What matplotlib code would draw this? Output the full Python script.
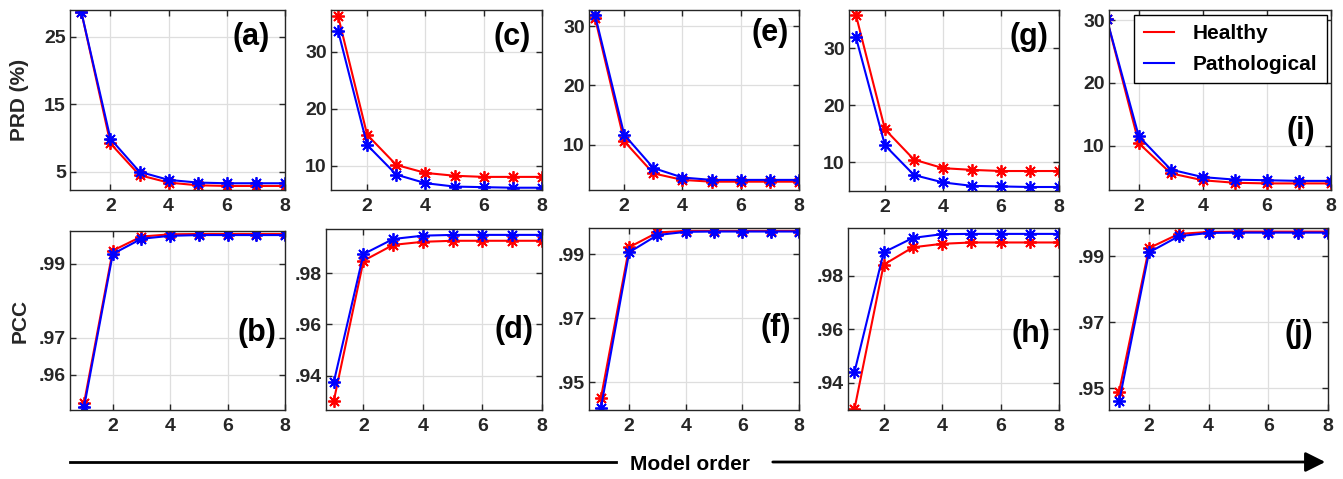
import numpy as np
import matplotlib
matplotlib.use('Agg')
import matplotlib.pyplot as plt
from matplotlib.lines import Line2D

matplotlib.rc('font', family='Liberation Sans', weight='bold', size=14)

orders = [1, 2, 3, 4, 5, 6, 7, 8]

# PRD (%) - top row
prd_a_healthy = [28.7, 9.2, 4.5, 3.4, 3.0, 2.9, 2.9, 2.9]
prd_a_patho = [28.7, 9.9, 5.0, 3.8, 3.4, 3.3, 3.3, 3.3]
prd_c_healthy = [36.3, 15.4, 10.1, 8.7, 8.2, 8.0, 8.0, 8.0]
prd_c_patho = [33.7, 13.6, 8.4, 6.9, 6.3, 6.2, 6.1, 6.1]
prd_e_healthy = [31.3, 10.6, 5.2, 4.1, 3.8, 3.8, 3.8, 3.8]
prd_e_patho = [31.8, 11.7, 6.1, 4.5, 4.1, 4.1, 4.1, 4.1]
prd_g_healthy = [35.8, 15.8, 10.5, 9.0, 8.7, 8.5, 8.5, 8.5]
prd_g_patho = [31.9, 13.0, 7.8, 6.5, 5.9, 5.8, 5.7, 5.7]
prd_i_healthy = [30.2, 10.4, 5.6, 4.5, 4.1, 4.0, 4.0, 4.0]
prd_i_patho = [30.2, 11.5, 6.2, 5.0, 4.6, 4.5, 4.4, 4.4]

# PCC - bottom row
pcc_b_healthy = [.9524, .9936, .9974, .9980, .9981, .9981, .9981, .9981]
pcc_b_patho = [.9513, .9927, .9968, .9976, .9978, .9978, .9978, .9978]
pcc_d_healthy = [.9301, .9849, .9911, .9923, .9927, .9927, .9927, .9927]
pcc_d_patho = [.9374, .9875, .9934, .9947, .9950, .9950, .9950, .9950]
pcc_f_healthy = [.9450, .9922, .9968, .9973, .9973, .9973, .9973, .9973]
pcc_f_patho = [.9419, .9906, .9960, .9970, .9971, .9971, .9971, .9971]
pcc_h_healthy = [.9302, .9841, .9906, .9919, .9924, .9924, .9924, .9924]
pcc_h_patho = [.9440, .9887, .9941, .9955, .9956, .9956, .9956, .9956]
pcc_j_healthy = [.9490, .9925, .9968, .9974, .9975, .9975, .9975, .9975]
pcc_j_patho = [.9460, .9912, .9961, .9971, .9972, .9972, .9972, .9972]

xticks = [2, 4, 6, 8]

W, H = 1343, 479
fig = plt.figure(figsize=(W / 100, H / 100), dpi=100)

# (label, healthy, patho, box px [left,right,top,bottom], xlim, ylim, yticks, yticklabels, label pos)
panels = [
    ('(a)', prd_a_healthy, prd_a_patho, (70, 285, 10, 190), (0.61, 8), (2.3, 29.0),
     [5, 15, 25], ['5', '15', '25'], (0.93, 0.85)),
    ('(c)', prd_c_healthy, prd_c_patho, (331, 542, 10, 190), (0.76, 8), (5.7, 37.3),
     [10, 20, 30], ['10', '20', '30'], (0.945, 0.85)),
    ('(e)', prd_e_healthy, prd_e_patho, (589, 799, 10, 190), (0.79, 8), (2.4, 32.7),
     [10, 20, 30], ['10', '20', '30'], (0.95, 0.87)),
    ('(g)', prd_g_healthy, prd_g_patho, (849, 1059, 10, 191), (0.76, 8), (5.0, 36.7),
     [10, 20, 30], ['10', '20', '30'], (0.95, 0.85)),
    ('(i)', prd_i_healthy, prd_i_patho, (1109, 1331, 10, 190), (1.07, 8), (2.95, 31.6),
     [10, 20, 30], ['10', '20', '30'], (0.93, 0.33)),
    ('(b)', pcc_b_healthy, pcc_b_patho, (70, 285, 231, 410), (0.51, 8), (.9505, .9989),
     [.96, .97, .99], ['.96', '.97', '.99'], (0.96, 0.43)),
    ('(d)', pcc_d_healthy, pcc_d_patho, (326, 542, 229, 410), (0.74, 8), (.9266, .9973),
     [.94, .96, .98], ['.94', '.96', '.98'], (0.96, 0.44)),
    ('(f)', pcc_f_healthy, pcc_f_patho, (589, 799, 228, 410), (0.58, 8), (.9413, .9982),
     [.95, .97, .99], ['.95', '.97', '.99'], (0.96, 0.45)),
    ('(h)', pcc_h_healthy, pcc_h_patho, (848, 1059, 228, 410), (0.78, 7.8), (.9299, .9978),
     [.94, .96, .98], ['.94', '.96', '.98'], (0.96, 0.42)),
    ('(j)', pcc_j_healthy, pcc_j_patho, (1109, 1328, 228, 410), (0.66, 8), (.9434, .9986),
     [.95, .97, .99], ['.95', '.97', '.99'], (0.93, 0.42)),
]

star = (8, 2, 0)
axes = {}
for lab, hv, pv, box, xl, yl, yt, ytl, lp in panels:
    l, r, t, b = box
    ax = fig.add_axes([l / W, 1 - b / H, (r - l) / W, (b - t) / H])
    ax.plot(orders, hv, color='#ff0000', lw=1.5, marker=star, ms=9, mew=1.3, label='Healthy')
    ax.plot(orders, pv, color='#0000ff', lw=1.5, marker=star, ms=9, mew=1.3, label='Pathological')
    ax.set_xlim(xl)
    ax.set_ylim(yl)
    ax.set_xticks(xticks)
    ax.set_yticks(yt)
    ax.set_yticklabels(ytl)
    ax.grid(True, color='#dedede', lw=0.9)
    ax.set_axisbelow(True)
    ax.tick_params(direction='in', length=4, width=1, top=True, right=True,
                   colors='#262626', labelsize=14)
    ax.tick_params(axis='x', pad=6)
    ax.tick_params(axis='y', pad=3)
    for s in ax.spines.values():
        s.set_color('#262626')
        s.set_linewidth(1.0)
    ax.text(lp[0], lp[1], lab, transform=ax.transAxes, ha='right', va='center',
            fontsize=22, fontweight='bold', color='black')
    axes[lab] = ax

axes['(a)'].set_ylabel('PRD (%)', fontsize=15, fontweight='bold', color='#262626')
axes['(a)'].yaxis.set_label_coords(-0.19, 0.5)
axes['(b)'].set_ylabel('PCC', fontsize=15, fontweight='bold', color='#262626')
axes['(b)'].yaxis.set_label_coords(-0.19, 0.5)

leg = axes['(i)'].legend(loc='upper right', bbox_to_anchor=(0.98, 0.972), fontsize=15,
                         frameon=True, fancybox=False, edgecolor='black', framealpha=1,
                         handlelength=1.45, handletextpad=0.9, labelspacing=0.55,
                         borderpad=0.45, borderaxespad=0)
leg.get_frame().set_linewidth(1.0)
for ln in leg.get_lines():
    ln.set_marker('')
    ln.set_linewidth(1.5)

# bottom arrow with "Model order"
ya = 1 - 462 / H
fig.add_artist(Line2D([70 / W, 616 / W], [ya, ya], transform=fig.transFigure,
                      color='black', lw=2))
fig.text(690 / W, 1 - 464 / H, 'Model order', ha='center', va='center',
         fontsize=15, fontweight='bold', color='black')
fig.patches.append(matplotlib.patches.FancyArrowPatch(
    (770 / W, ya), (1328 / W, ya), transform=fig.transFigure,
    arrowstyle='-|>,head_length=12,head_width=6', color='black', lw=2,
    mutation_scale=1))

fig.savefig('out.png', dpi=100)
